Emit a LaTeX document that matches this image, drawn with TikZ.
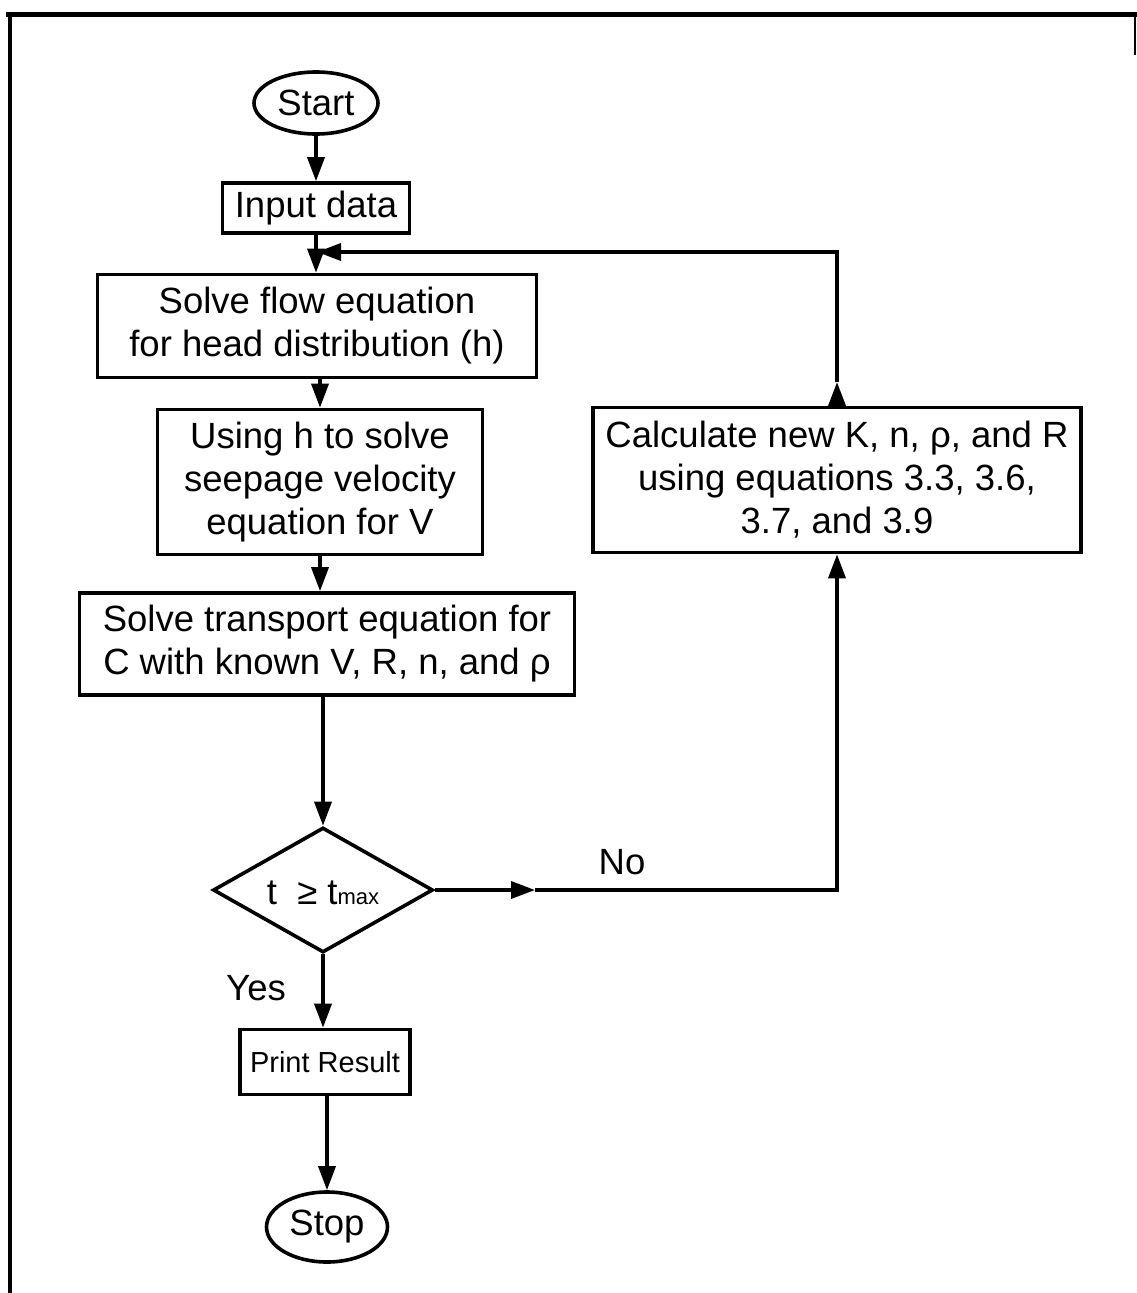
\documentclass[tikz,border=0pt]{standalone}
\usepackage{fontspec}
\setmainfont{Liberation Sans}
\usetikzlibrary{arrows.meta,shapes.geometric}
\begin{document}
\begin{tikzpicture}[x=1pt,y=-1pt,line width=3.6pt,
  box/.style={draw,line width=3.6pt,inner sep=0pt,align=center,font=\fontsize{36.5}{43}\selectfont},
  term/.style={draw,ellipse,line width=3.6pt,inner sep=0pt,font=\fontsize{36.5}{43}\selectfont},
  arr/.style={-{Triangle[length=24pt,width=17pt]},line width=3.6pt},
  lbl/.style={inner sep=0pt,font=\fontsize{36.5}{43}\selectfont}]
\useasboundingbox (0,0) rectangle (1137,1293);
\fill[white] (0,0) rectangle (1137,1293);
% outer frame (scan edge)
\draw[line width=5pt] (6,14) -- (1137,14);
\draw[line width=4.5pt] (10,12) -- (10,1293);
\draw[line width=1.5pt] (1135,14) -- (1135,55);
% nodes
\node[term,minimum width=124pt,minimum height=62pt] (start) at (316,103) {Start};
\node[box,minimum width=187pt,minimum height=50pt] (input) at (316,208) {Input data};
\node[box,minimum width=439pt,minimum height=103pt] (flow) at (317,326) {Solve flow equation\\for head distribution (h)};
\node[box,minimum width=325pt,minimum height=145pt] (using) at (320,482) {Using h to solve\\seepage velocity\\equation for V};
\node[box,minimum width=495pt,minimum height=102pt] (trans) at (327,644) {Solve transport equation for\\C with known V, R, n, and ρ};
\node[draw,diamond,line width=3.6pt,inner sep=0pt,minimum width=220pt,minimum height=125pt,shape aspect=1.76] (dec) at (323,890) {};
\node[lbl] (dectext) at (323,893) {t \ ≥ t{\fontsize{22}{22}\selectfont max}};
\node[box,minimum width=488pt,minimum height=145pt] (calc) at (837,480) {Calculate new K, n, ρ, and R\\using equations 3.3, 3.6,\\3.7, and 3.9};
\node[box,minimum width=170pt,minimum height=65pt,font=\fontsize{29}{34}\selectfont] (print) at (325,1062) {Print Result};
\node[term,minimum width=121pt,minimum height=70pt] (stop) at (327,1227) {Stop};
\node[lbl] (no) at (622,862) {No};
\node[lbl] (yes) at (256,988) {Yes};
% helper coordinates
\coordinate (merge) at (317,252);
\coordinate (nomid) at (535,890);
\coordinate (calcup) at (837,382);
% connectors
\draw[arr] (start.south) -- (start.south |- input.north);
\draw[arr] (input.south) -- (input.south |- flow.north);
\draw[arr] (flow.south -| using.north) -- (using.north);
\draw[arr] (using.south) -- (using.south |- trans.north);
\draw[arr] (trans.south -| dec.north) -- (dec.north);
\draw[arr] (dec.south) -- (dec.south |- print.north);
\draw[arr] (print.south) -- (print.south -| stop.north) -- (stop.north);
\draw[arr] (dec.east) -- (nomid);
\draw[arr] (nomid) -| (calc.south);
\draw[arr] (calc.north) -- (calcup);
\draw[arr] (calcup) |- (merge);
\end{tikzpicture}
\end{document}
